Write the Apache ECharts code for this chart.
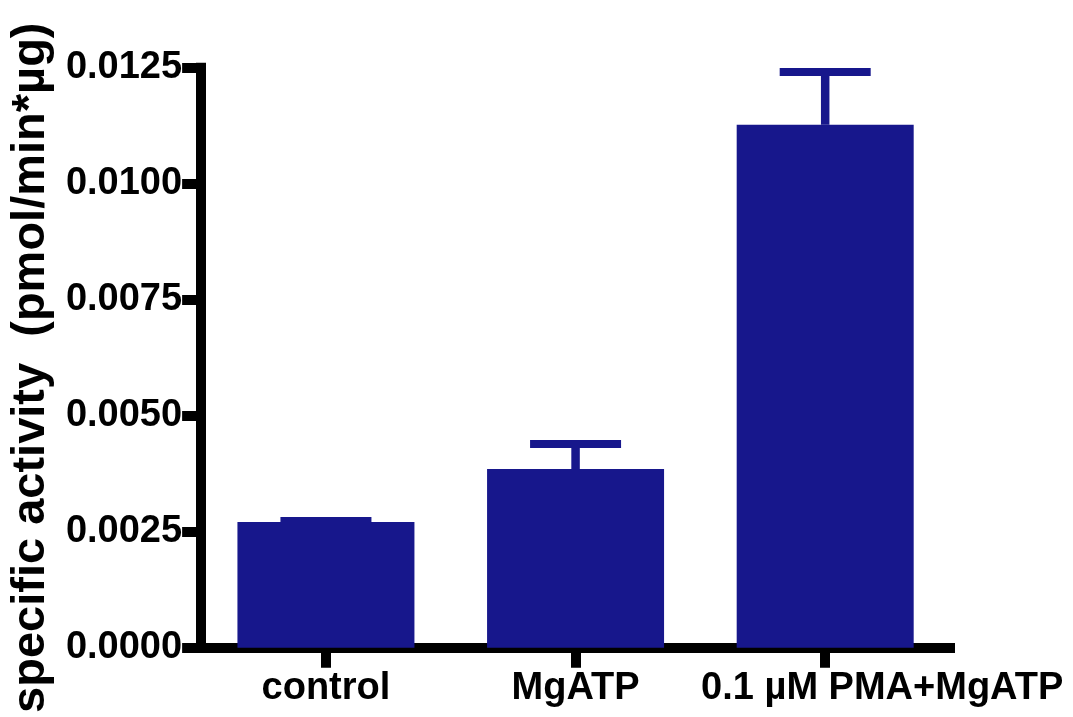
<!DOCTYPE html>
<html>
<head>
<meta charset="utf-8">
<title>Specific activity</title>
<script src="https://cdn.jsdelivr.net/npm/echarts@6/dist/echarts.min.js"></script>
<style>
  html, body { margin: 0; padding: 0; background: #ffffff; }
  #chart { width: 1073px; height: 717px; }
</style>
</head>
<body>
<div id="chart"></div>
<script>
// Treatment groups and measured specific activity (mean and upper error limit)
const categories = ['control', 'MgATP', '0.1 µM PMA+MgATP'];
const meanActivity = [0.00271, 0.00385, 0.01127];
const upperError = [0.00273, 0.00439, 0.01241];
const yTicks = [0, 0.0025, 0.005, 0.0075, 0.01, 0.0125];

const FONT = "'Liberation Sans', Arial, Helvetica, sans-serif";
const BAR_COLOR = '#17178c';

const chart = echarts.init(document.getElementById('chart'), null, { renderer: 'canvas' });

const errorData = categories.map((c, i) => [i, meanActivity[i], upperError[i]]);

chart.setOption({
  animation: false,
  backgroundColor: '#ffffff',
  grid: { left: 201, right: 123, top: 67.7, bottom: 69.3, containLabel: false },
  xAxis: {
    type: 'category',
    data: categories.map((c, i) => i === 2
      ? { value: c, textStyle: { padding: [0, 0, 0, 114] } }
      : c),
    axisLine: { show: true, lineStyle: { color: '#000', width: 10, cap: 'square' } },
    axisTick: { show: true, alignWithLabel: true, interval: 0, length: 20, lineStyle: { color: '#000', width: 10 } },
    axisLabel: {
      interval: 0, hideOverlap: false,
      color: '#000', fontFamily: FONT, fontWeight: 'bold', fontSize: 38, margin: 22
    },
    splitLine: { show: false }
  },
  yAxis: {
    type: 'value',
    min: yTicks[0],
    max: yTicks[yTicks.length - 1],
    interval: yTicks[1] - yTicks[0],
    name: 'specific activity  (pmol/min*µg)',
    nameLocation: 'middle',
    nameRotate: 90,
    nameGap: 140,
    nameTextStyle: { color: '#000', fontFamily: FONT, fontWeight: 'bold', fontSize: 47, padding: [0, 20, 0, 0] },
    axisLine: { show: true, lineStyle: { color: '#000', width: 10, cap: 'square' } },
    axisTick: { show: true, length: 19, lineStyle: { color: '#000', width: 10 } },
    axisLabel: {
      color: '#000', fontFamily: FONT, fontWeight: 'bold', fontSize: 38, margin: 19,
      formatter: v => v.toFixed(4)
    },
    splitLine: { show: false }
  },
  series: [
    {
      type: 'bar',
      data: meanActivity,
      barWidth: 177,
      itemStyle: { color: BAR_COLOR },
      z: 1
    },
    {
      type: 'custom',
      data: errorData,
      z: 3,
      renderItem: function (params, api) {
        const x = api.value(0);
        const top = api.coord([x, api.value(2)]);
        const base = api.coord([x, api.value(1)]);
        const capHalf = 45.5;
        const w = 8.5;
        return {
          type: 'group',
          children: [
            {
              type: 'rect',
              shape: { x: top[0] - w / 2, y: top[1], width: w, height: Math.max(base[1] - top[1], 0) },
              style: { fill: BAR_COLOR }
            },
            {
              type: 'rect',
              shape: { x: top[0] - capHalf, y: top[1] - 4, width: capHalf * 2, height: 8 },
              style: { fill: BAR_COLOR }
            }
          ]
        };
      }
    }
  ]
});
</script>
</body>
</html>
